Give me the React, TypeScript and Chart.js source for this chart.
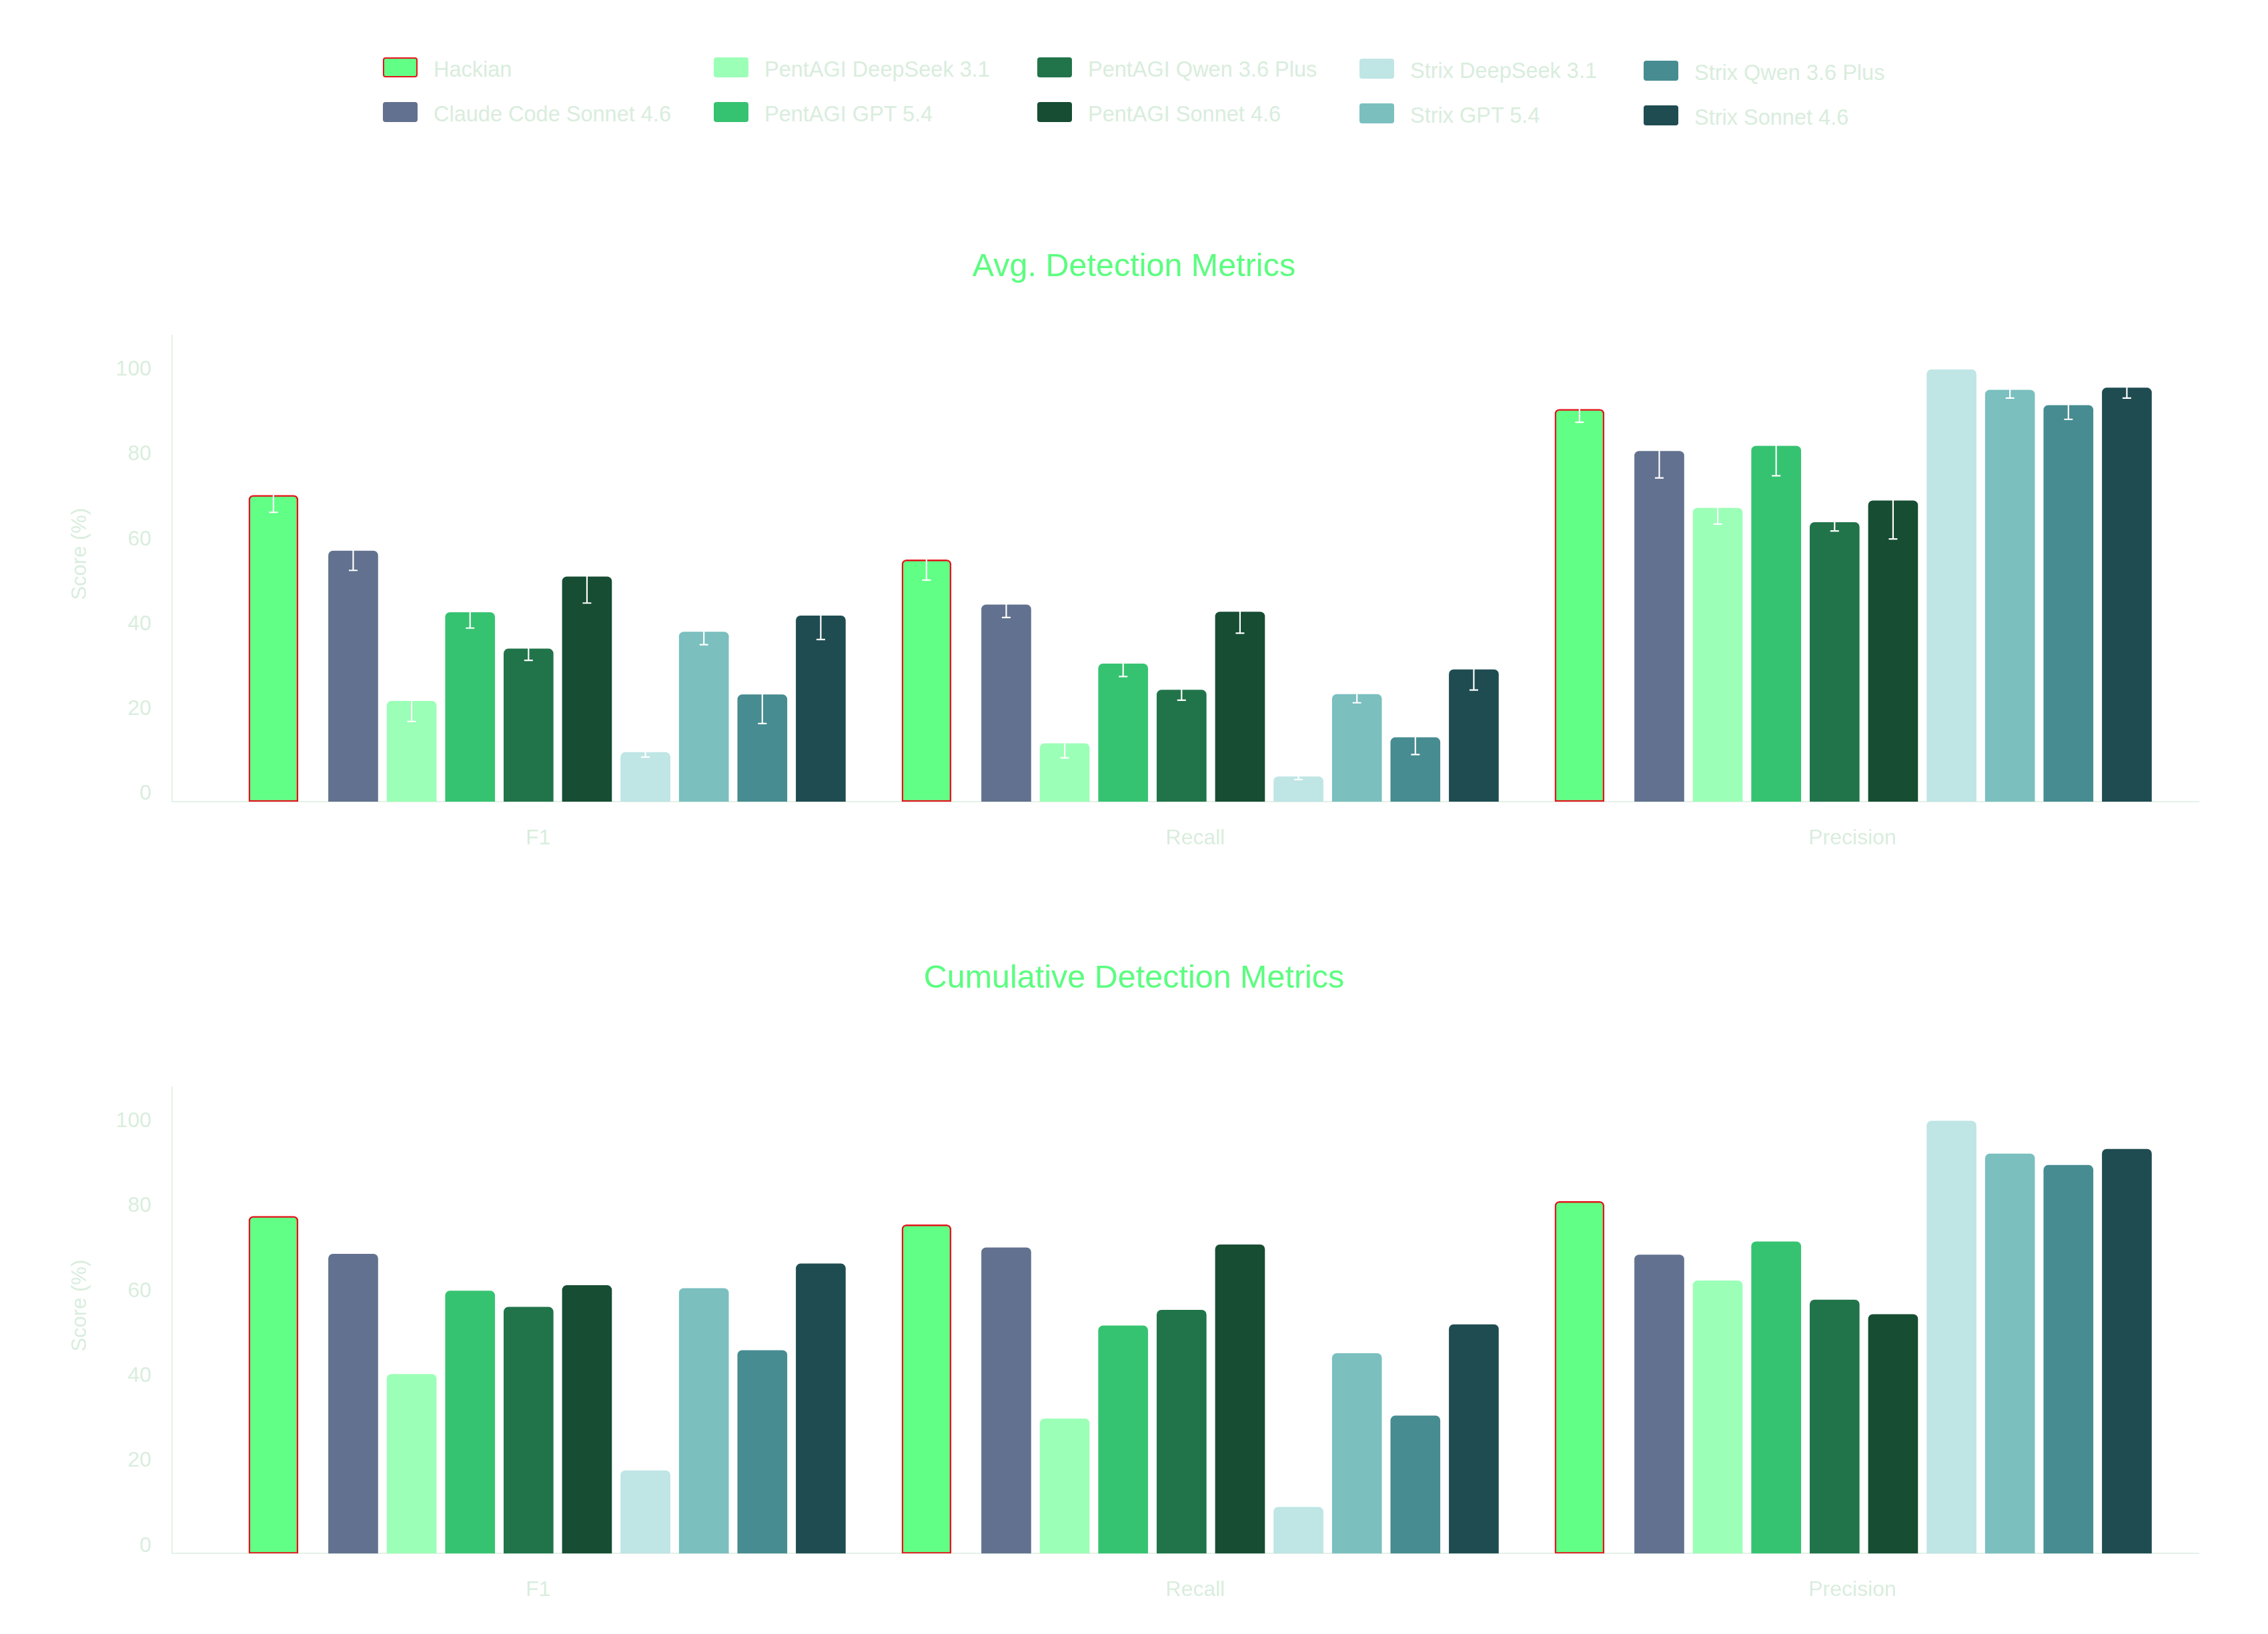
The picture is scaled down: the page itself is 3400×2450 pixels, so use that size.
import React, { useEffect, useRef } from 'react';
import { Chart, registerables } from 'chart.js';

Chart.register(...registerables);

// ---- data ---------------------------------------------------------------
const CATEGORIES = ['F1', 'Recall', 'Precision'];

const SERIES = [
  'Hackian',
  'Claude Code Sonnet 4.6',
  'PentAGI DeepSeek 3.1',
  'PentAGI GPT 5.4',
  'PentAGI Qwen 3.6 Plus',
  'PentAGI Sonnet 4.6',
  'Strix DeepSeek 3.1',
  'Strix GPT 5.4',
  'Strix Qwen 3.6 Plus',
  'Strix Sonnet 4.6',
];

const COLORS = [
  '#62ff86',
  '#62718f',
  '#9cffb7',
  '#36c371',
  '#21744a',
  '#164d33',
  '#bfe5e5',
  '#7bbfbf',
  '#468c91',
  '#1f4c51',
];

// Average per run (%), one value per series in SERIES order
const AVG_F1 = [70.4, 57.3, 21.9, 42.8, 34.2, 51.2, 9.8, 38.2, 23.4, 42.0];
const AVG_RECALL = [55.2, 44.6, 11.9, 30.7, 24.5, 42.9, 4.1, 23.5, 13.3, 29.3];
const AVG_PRECISION = [90.7, 80.8, 67.4, 82.0, 64.0, 69.1, 100, 95.2, 91.6, 95.7];

// Standard deviation across runs
const AVG_F1_ERR = [4.0, 4.6, 4.8, 3.7, 2.7, 6.2, 1.1, 3.0, 6.8, 5.6];
const AVG_RECALL_ERR = [4.8, 3.0, 3.4, 3.0, 2.4, 5.0, 0.7, 2.0, 4.0, 4.8];
const AVG_PRECISION_ERR = [3.1, 6.3, 3.8, 7.0, 2.0, 9.0, 0, 1.9, 3.3, 2.4];

// Cumulative over all runs (%)
const CUM_F1 = [77.6, 68.7, 40.4, 60.0, 56.2, 61.3, 17.7, 60.6, 46.0, 66.4];
const CUM_RECALL = [75.6, 70.2, 29.9, 51.8, 55.5, 70.9, 9.1, 45.3, 30.6, 52.1];
const CUM_PRECISION = [81.1, 68.5, 62.4, 71.6, 57.9, 54.5, 100, 92.3, 89.6, 93.4];

const Y_TICKS = [0, 20, 40, 60, 80, 100];

// ---- style --------------------------------------------------------------
const FONT = "'Liberation Sans', Arial, Helvetica, sans-serif";
const TITLE_COLOR = '#5cfd80';
const TEXT_COLOR = '#d9eddd';
const AXIS_COLOR = '#e4f2e7';
const HACKIAN_BORDER = '#e5141c';

const Y_MIN = -1.8;
const Y_MAX = 108;
const X_MIN = -0.5587;
const X_MAX = 2.5445;

// bar centres relative to the category tick, in category units
const FIRST_BAR = -0.4035;
const SECOND_BAR = -0.2814;
const BAR_STEP = 0.0895;
const barOffset = (d: number) => (d === 0 ? FIRST_BAR : SECOND_BAR + (d - 1) * BAR_STEP);

// category captions sit on a slightly wider pitch than the bar groups
const LABEL_SHIFT = 0.002;
const LABEL_PITCH = 1.0062;

Chart.defaults.font.family = FONT;

// white whiskers (mean ± sd) over each bar
const errorBars = {
  id: 'errorBars',
  afterDatasetsDraw(chart: any, _args: any, opts: any) {
    const errs = opts && opts.errors;
    if (!errs) return;
    const { ctx } = chart;
    const y = chart.scales.y;
    ctx.save();
    ctx.strokeStyle = opts.color || '#ffffff';
    ctx.lineWidth = opts.width || 2;
    const cap = opts.cap || 13;
    chart.data.datasets.forEach((ds: any, d: number) => {
      const meta = chart.getDatasetMeta(d);
      meta.data.forEach((bar: any, i: number) => {
        const e = errs[i][d];
        if (!e) return;
        const v = ds.data[i].y;
        const top = y.getPixelForValue(v + e);
        const bot = y.getPixelForValue(v - e);
        const x = bar.x;
        ctx.beginPath();
        ctx.moveTo(x, top);
        ctx.lineTo(x, bot);
        ctx.moveTo(x - cap / 2, top);
        ctx.lineTo(x + cap / 2, top);
        ctx.moveTo(x - cap / 2, bot);
        ctx.lineTo(x + cap / 2, bot);
        ctx.stroke();
      });
    });
    ctx.restore();
  },
};

// rotated value-axis caption, sitting a little above the plot's middle
const scoreTitle = {
  id: 'scoreTitle',
  afterDraw(chart: any, _args: any, opts: any) {
    const { ctx, chartArea } = chart;
    const y = chart.scales.y;
    ctx.save();
    ctx.fillStyle = opts.color;
    ctx.font = `${opts.size}px ${FONT}`;
    ctx.textAlign = 'center';
    ctx.textBaseline = 'middle';
    ctx.translate(y.left + opts.inset, (chartArea.top + chartArea.bottom) / 2 - opts.raise);
    ctx.rotate(-Math.PI / 2);
    ctx.fillText(opts.text, 0, 0);
    ctx.restore();
  },
};

type PanelProps = {
  title: string;
  rows: number[][];
  errors?: number[][];
  width: number;
  height: number;
  titleTop: number;
  titleBottom: number;
  padBottom: number;
};

function MetricsPanel({ title, rows, errors, width, height, titleTop, titleBottom, padBottom }: PanelProps) {
  const ref = useRef<HTMLCanvasElement | null>(null);

  useEffect(() => {
    if (!ref.current) return;
    const datasets = SERIES.map((name, d) => ({
      label: name,
      data: rows.map((row, c) => ({ x: c + barOffset(d), y: row[d] })),
      backgroundColor: COLORS[d],
      borderColor: d === 0 ? HACKIAN_BORDER : COLORS[d],
      borderWidth: d === 0 ? 2.5 : 0,
      borderSkipped: d === 0 ? false : 'bottom',
      borderRadius: { topLeft: 7, topRight: 7, bottomLeft: 0, bottomRight: 0 },
      base: Y_MIN,
      barThickness: 74,
      grouped: false,
      yAxisID: 'y',
    }));

    const chart = new Chart(ref.current, {
      type: 'bar',
      data: { datasets } as any,
      plugins: [errorBars, scoreTitle],
      options: {
        animation: false,
        responsive: false,
        devicePixelRatio: 1,
        layout: { padding: { left: 0, right: 0, top: 0, bottom: padBottom } },
        plugins: {
          legend: { display: false },
          tooltip: { enabled: false },
          title: {
            display: true,
            text: title,
            color: TITLE_COLOR,
            font: { size: 48.5, weight: 'normal', family: FONT },
            padding: { top: titleTop, bottom: titleBottom },
          },
          errorBars: { errors, color: '#ffffff', width: 2.2, cap: 13 },
          scoreTitle: { text: 'Score (%)', color: TEXT_COLOR, size: 31, inset: 112, raise: 22 },
        } as any,
        scales: {
          x: {
            type: 'linear',
            offset: false,
            min: X_MIN,
            max: X_MAX,
            afterBuildTicks: (axis: any) => {
              axis.ticks = CATEGORIES.map((_, i) => ({ value: LABEL_SHIFT + i * LABEL_PITCH }));
            },
            afterFit: (axis: any) => {
              axis.height = 90;
            },
            grid: { display: false, drawTicks: false, offset: false },
            border: { display: true, color: AXIS_COLOR, width: 2 },
            ticks: {
              color: TEXT_COLOR,
              font: { size: 32 },
              padding: 36,
              autoSkip: false,
              maxRotation: 0,
              callback: (_v: any, i: number) => CATEGORIES[i] ?? '',
            },
          },
          y: {
            position: 'left',
            min: Y_MIN,
            max: Y_MAX,
            afterBuildTicks: (axis: any) => {
              axis.ticks = Y_TICKS.map((v) => ({ value: v }));
            },
            afterFit: (axis: any) => {
              axis.width = 250;
            },
            grid: { display: false, drawTicks: false },
            border: { display: true, color: AXIS_COLOR, width: 2 },
            ticks: { color: TEXT_COLOR, font: { size: 32 }, padding: 31 },
          },
          // empty gutter on the right so the plot stops short of the edge
          gutter: {
            type: 'linear',
            position: 'right',
            display: true,
            afterFit: (axis: any) => {
              axis.width = 96;
            },
            grid: { display: false, drawTicks: false },
            border: { display: false },
            ticks: { display: false },
          },
        } as any,
      },
    });
    return () => chart.destroy();
  }, [title, rows, errors, titleTop, titleBottom, padBottom]);

  return <canvas ref={ref} width={width} height={height} style={{ display: 'block', width, height }} />;
}

const LEGEND_COL_X = [566, 1062, 1547, 2030, 2456];
const LEGEND_COL_DY = [0, 0, 0, 2, 5];
const LEGEND_ROW_Y = [78, 145];

function Legend() {
  return (
    <>
      {SERIES.map((name, i) => {
        const col = Math.floor(i / 2);
        const row = i % 2;
        return (
          <div
            key={name}
            style={{
              position: 'absolute',
              left: LEGEND_COL_X[col],
              top: LEGEND_ROW_Y[row] + LEGEND_COL_DY[col],
              height: 30,
              display: 'flex',
              alignItems: 'center',
              whiteSpace: 'nowrap',
            }}
          >
            <span
              style={{
                display: 'inline-block',
                width: 52,
                height: 30,
                boxSizing: 'border-box',
                borderRadius: 4,
                background: COLORS[i],
                border: i === 0 ? `2.5px solid ${HACKIAN_BORDER}` : 'none',
              }}
            />
            <span
              style={{
                marginLeft: 24,
                fontFamily: FONT,
                fontSize: 32.5,
                lineHeight: '30px',
                color: TEXT_COLOR,
                position: 'relative',
                top: 3,
              }}
            >
              {name}
            </span>
          </div>
        );
      })}
    </>
  );
}

const AVG_ROWS = [AVG_F1, AVG_RECALL, AVG_PRECISION];
const AVG_ERRS = [AVG_F1_ERR, AVG_RECALL_ERR, AVG_PRECISION_ERR];
const CUM_ROWS = [CUM_F1, CUM_RECALL, CUM_PRECISION];

export default function App() {
  return (
    <div style={{ position: 'relative', width: 3384, height: 2434, background: '#ffffff', fontFamily: FONT }}>
      <Legend />
      <div style={{ position: 'absolute', left: 0, top: 292 }}>
        <MetricsPanel
          title="Avg. Detection Metrics"
          rows={AVG_ROWS}
          errors={AVG_ERRS}
          width={3384}
          height={1000}
          titleTop={72}
          titleBottom={73.2}
          padBottom={8}
        />
      </div>
      <div style={{ position: 'absolute', left: 0, top: 1392 }}>
        <MetricsPanel
          title="Cumulative Detection Metrics"
          rows={CUM_ROWS}
          width={3384}
          height={1042}
          titleTop={38.9}
          titleBottom={132.9}
          padBottom={22.7}
        />
      </div>
    </div>
  );
}
